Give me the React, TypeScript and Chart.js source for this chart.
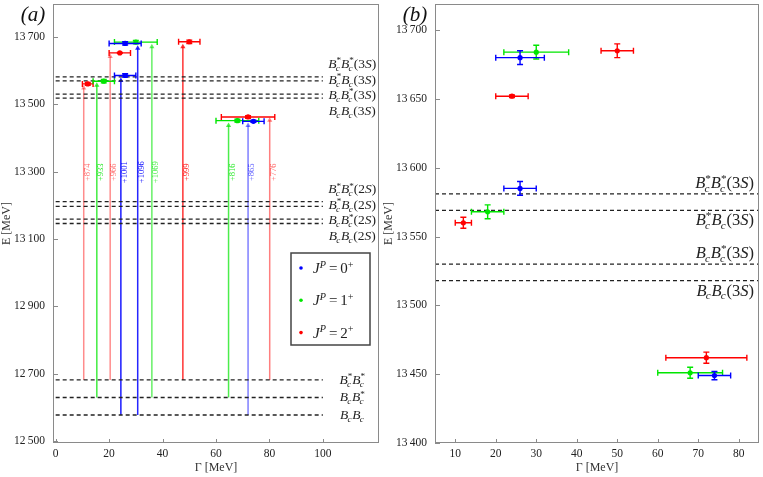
import { useEffect, useRef } from "react";
import { Chart, registerables, type ChartConfiguration, type Plugin } from "chart.js";

Chart.register(...registerables);

// ---- data ----
const gammaTicksLeft = [0, 20, 40, 60, 80, 100];
const massTicksLeft = [12500, 12700, 12900, 13100, 13300, 13500, 13700];
const gammaTicksRight = [10, 20, 30, 40, 50, 60, 70, 80];
const massTicksRight = [13400, 13450, 13500, 13550, 13600, 13650, 13700];

const jpValues = ["0", "1", "2"];
const jpColors = ["#0000ff", "#00e600", "#ff0000"];

// J^P = 0+
const gamma0 = [26, 26, 74];
const gamma0Err = [6, 4, 4];
const mass0 = [13680, 13585, 13449];
const mass0Err = [5, 5, 3];
// J^P = 1+
const gamma1 = [30, 18, 68];
const gamma1Err = [8, 4, 8];
const mass1 = [13684, 13568, 13451];
const mass1Err = [5, 5, 4];
// J^P = 2+
const gamma2 = [50, 24, 12, 72];
const gamma2Err = [4, 4, 2, 10];
const mass2 = [13685, 13652, 13560, 13462];
const mass2Err = [5, 1, 4, 4];

// thresholds: star flags for (first, second) meson
const pairs1S = [[true, true], [false, true], [false, false]];
const mass1S = [12682, 12630, 12578];
const pairs2S = [[true, true], [true, false], [false, true], [false, false]];
const mass2S = [13211, 13197, 13159, 13146];
const pairs3S = [[true, true], [true, false], [false, true], [false, false]];
const mass3S = [13581, 13569, 13530, 13518];

// arrows from thresholds up to the states (left panel)
const arrowGamma = [10.5, 15.4, 20.4, 24.4, 30.7, 36, 47.6, 64.7, 72, 80.1];
const arrowFrom = [12682, 12630, 12682, 12578, 12578, 12630, 12682, 12630, 12578, 12682];
const arrowTo = [13548, 13556, 13641, 13570, 13666, 13670, 13670, 13437, 13437, 13452];
const arrowJ = [2, 1, 2, 0, 0, 1, 2, 1, 0, 2];
const arrowAlpha = [0.45, 0.75, 0.45, 0.9, 0.85, 0.6, 0.8, 0.7, 0.5, 0.5];
const arrowText = ["+874", "+933", "+966", "+1001", "+1096", "+1069", "+999", "+816", "+865", "+776"];
const arrowTextMass = 13298;

const SERIF = '"Liberation Serif", "DejaVu Serif", serif';
const font = (size: number, it?: boolean) => `${it ? "italic " : ""}${size}px ${SERIF}`;

type Tok = { t: string; it?: boolean; sub?: string; sup?: string; supIt?: boolean };

const meson = (star: boolean): Tok => ({ t: "B", it: true, sub: "c", sup: star ? "*" : undefined });
const wave = (n: string): Tok[] => [{ t: "(" }, { t: n }, { t: "S", it: true }, { t: ")" }];
const pairName = (p: boolean[], n?: string): Tok[] => [meson(p[0]), meson(p[1]), ...(n ? wave(n) : [])];

function tokWidths(ctx: CanvasRenderingContext2D, tok: Tok, size: number) {
  ctx.font = font(size, tok.it);
  const w = ctx.measureText(tok.t).width;
  const s = size * 0.68;
  let extra = 0;
  if (tok.sub) {
    ctx.font = font(s, true);
    extra = Math.max(extra, ctx.measureText(tok.sub).width);
  }
  if (tok.sup) {
    ctx.font = font(s, tok.supIt);
    extra = Math.max(extra, ctx.measureText(tok.sup).width);
  }
  return { w, extra };
}

function drawRich(
  ctx: CanvasRenderingContext2D,
  toks: Tok[],
  x: number,
  y: number,
  size: number,
  align: "left" | "center" | "right",
  color = "#222"
) {
  const sizes = toks.map((t) => tokWidths(ctx, t, size));
  const total = sizes.reduce((a, s) => a + s.w + s.extra, 0);
  let cx = align === "right" ? x - total : align === "center" ? x - total / 2 : x;
  ctx.save();
  ctx.fillStyle = color;
  ctx.textAlign = "left";
  ctx.textBaseline = "alphabetic";
  const s = size * 0.68;
  toks.forEach((tok, i) => {
    ctx.font = font(size, tok.it);
    ctx.fillText(tok.t, cx, y);
    cx += sizes[i].w;
    if (tok.sub) {
      ctx.font = font(s, true);
      ctx.fillText(tok.sub, cx - size * 0.05, y + size * 0.22);
    }
    if (tok.sup) {
      ctx.font = font(s, tok.supIt);
      ctx.fillText(tok.sup, cx, y - size * 0.36);
    }
    cx += sizes[i].extra;
  });
  ctx.restore();
}

const fmtMass = (v: number) => `${Math.floor(v / 1000)}\u2009${String(v % 1000).padStart(3, "0")}`;

type Pt = { x: number; y: number; xe: number; ye: number };
const pointsFor = (g: number[], ge: number[], m: number[], me: number[]): Pt[] =>
  g.map((x, i) => ({ x, y: m[i], xe: ge[i], ye: me[i] }));

const pointSets = [
  pointsFor(gamma0, gamma0Err, mass0, mass0Err),
  pointsFor(gamma1, gamma1Err, mass1, mass1Err),
  pointsFor(gamma2, gamma2Err, mass2, mass2Err),
];

function rgba(hex: string, a: number) {
  const n = parseInt(hex.slice(1), 16);
  return `rgba(${(n >> 16) & 255},${(n >> 8) & 255},${n & 255},${a})`;
}

type Panel = "a" | "b";

function panelPlugin(panel: Panel): Plugin<"scatter"> {
  return {
    id: "panel-" + panel,
    beforeDatasetDraw(chart, args) {
      // error bars under each point set
      if (args.index > 2) return;
      const { ctx } = chart;
      const xs = chart.scales.x;
      const ys = chart.scales.y;
      const color = jpColors[args.index];
      ctx.save();
      ctx.strokeStyle = color;
      ctx.lineWidth = 1.4;
      for (const p of pointSets[args.index]) {
        const px = xs.getPixelForValue(p.x);
        const py = ys.getPixelForValue(p.y);
        const x0 = xs.getPixelForValue(p.x - p.xe);
        const x1 = xs.getPixelForValue(p.x + p.xe);
        const y0 = ys.getPixelForValue(p.y - p.ye);
        const y1 = ys.getPixelForValue(p.y + p.ye);
        const c = 3;
        ctx.beginPath();
        ctx.moveTo(x0, py);
        ctx.lineTo(x1, py);
        ctx.moveTo(x0, py - c);
        ctx.lineTo(x0, py + c);
        ctx.moveTo(x1, py - c);
        ctx.lineTo(x1, py + c);
        ctx.moveTo(px, y0);
        ctx.lineTo(px, y1);
        ctx.moveTo(px - c, y0);
        ctx.lineTo(px + c, y0);
        ctx.moveTo(px - c, y1);
        ctx.lineTo(px + c, y1);
        ctx.stroke();
      }
      ctx.restore();
    },
    afterDraw(chart) {
      const { ctx, chartArea: a } = chart;
      const xs = chart.scales.x;
      const ys = chart.scales.y;
      ctx.save();
      // frame and inward ticks
      ctx.strokeStyle = "#8a8a8a";
      ctx.lineWidth = 1;
      ctx.strokeRect(a.left + 0.5, a.top + 0.5, a.right - a.left - 1, a.bottom - a.top - 1);
      ctx.beginPath();
      for (const v of panel === "a" ? gammaTicksLeft : gammaTicksRight) {
        const px = Math.round(xs.getPixelForValue(v)) + 0.5;
        ctx.moveTo(px, a.bottom);
        ctx.lineTo(px, a.bottom - 4);
      }
      for (const v of panel === "a" ? massTicksLeft : massTicksRight) {
        const py = Math.round(ys.getPixelForValue(v)) + 0.5;
        ctx.moveTo(a.left, py);
        ctx.lineTo(a.left + 5, py);
      }
      ctx.stroke();

      // panel tag and axis titles
      ctx.fillStyle = "#111";
      ctx.font = font(21, true);
      ctx.textAlign = "center";
      ctx.textBaseline = "alphabetic";
      ctx.fillText(panel === "a" ? "(a)" : "(b)", a.left - 20, 21);
      ctx.font = font(12);
      ctx.fillStyle = "#333";
      ctx.fillText("\u0393 [MeV]", (a.left + a.right) / 2, 471);
      ctx.save();
      ctx.translate(a.left - 43, (a.top + a.bottom) / 2);
      ctx.rotate(-Math.PI / 2);
      ctx.fillText("E [MeV]", 0, 0);
      ctx.restore();

      if (panel === "a") {
        // threshold labels
        const lx = xs.getPixelForValue(111);
        const size = 13.5;
        const stack = (masses: number[], pairs: boolean[][], n: string) => {
          const mid = masses.reduce((s, m) => s + ys.getPixelForValue(m), 0) / masses.length;
          pairs.forEach((p, i) => {
            const y = mid + (i - (pairs.length - 1) / 2) * 15.5;
            drawRich(ctx, pairName(p, n), lx, y + 4, size, "center");
          });
        };
        stack(mass3S, pairs3S, "3");
        stack(mass2S, pairs2S, "2");
        pairs1S.forEach((p, i) => {
          drawRich(ctx, pairName(p), lx, ys.getPixelForValue(mass1S[i]) + 4, size, "center");
        });

        // energy shifts along the arrows
        ctx.font = font(8.5);
        ctx.textAlign = "center";
        ctx.textBaseline = "middle";
        arrowText.forEach((t, i) => {
          ctx.save();
          ctx.fillStyle = rgba(jpColors[arrowJ[i]], Math.min(1, arrowAlpha[i] + 0.15));
          ctx.translate(xs.getPixelForValue(arrowGamma[i]) + 4, ys.getPixelForValue(arrowTextMass));
          ctx.rotate(-Math.PI / 2);
          ctx.fillText(t, 0, 0);
          ctx.restore();
        });

        // legend
        const bx = a.right - 88;
        const by = 253;
        const bw = 79;
        const bh = 92;
        ctx.fillStyle = "#fff";
        ctx.fillRect(bx, by, bw, bh);
        ctx.strokeStyle = "#444";
        ctx.lineWidth = 1.5;
        ctx.strokeRect(bx, by, bw, bh);
        jpValues.forEach((v, i) => {
          const y = by + 15 + i * 32.3;
          ctx.fillStyle = jpColors[i];
          ctx.beginPath();
          ctx.arc(bx + 10, y, 1.8, 0, Math.PI * 2);
          ctx.fill();
          drawRich(
            ctx,
            [
              { t: "J", it: true, sup: "P", supIt: true },
              { t: "\u2009=\u2009" + v, sup: "+" },
            ],
            bx + 22,
            y + 5,
            15,
            "left"
          );
        });
      } else {
        const rx = a.right - 5;
        const offs = [-6, 15, -6, 15];
        pairs3S.forEach((p, i) => {
          drawRich(ctx, pairName(p, "3"), rx, ys.getPixelForValue(mass3S[i]) + offs[i], 16.5, "right");
        });
      }
      ctx.restore();
    },
  };
}

function makeConfig(panel: Panel): ChartConfiguration<"scatter"> {
  const left = panel === "a";
  const x0 = left ? 0 : 5;
  const x1 = left ? 100 : 85;
  const thresholds = left ? [...mass3S, ...mass2S, ...mass1S] : mass3S;

  const datasets: any[] = pointSets.map((pts, i) => ({
    data: pts,
    backgroundColor: jpColors[i],
    borderWidth: 0,
    pointRadius: 2.6,
  }));
  thresholds.forEach((m) => {
    datasets.push({
      type: "line",
      data: [
        { x: x0, y: m },
        { x: x1, y: m },
      ],
      borderColor: "#222",
      borderWidth: 1.3,
      borderDash: [4, 3],
      pointRadius: 0,
    });
  });
  if (left) {
    arrowGamma.forEach((g, i) => {
      const c = rgba(jpColors[arrowJ[i]], arrowAlpha[i]);
      datasets.push({
        type: "line",
        data: [
          { x: g, y: arrowFrom[i] },
          { x: g, y: arrowTo[i] },
        ],
        borderColor: c,
        borderWidth: 1.5,
        pointRadius: [0, 3],
        pointStyle: "triangle",
        pointBackgroundColor: c,
        pointBorderWidth: 0,
      });
    });
  }

  const tickFont = { family: SERIF, size: 11.5 };
  return {
    type: "scatter",
    data: { datasets },
    options: {
      animation: false,
      responsive: true,
      maintainAspectRatio: false,
      layout: { padding: { top: 2, right: left ? 1 : 2, left: 0, bottom: 0 } },
      plugins: { legend: { display: false }, tooltip: { enabled: false } },
      scales: {
        x: {
          type: "linear",
          min: left ? -1 : 5,
          max: left ? 121 : 85,
          grid: { display: false, drawTicks: false },
          border: { display: false },
          afterBuildTicks: (s) => {
            s.ticks = (left ? gammaTicksLeft : gammaTicksRight).map((value) => ({ value }));
          },
          afterFit: (s) => {
            s.height = 34;
            s.paddingLeft = 0;
            s.paddingRight = 0;
          },
          ticks: { font: tickFont, color: "#222", padding: 4, maxRotation: 0, autoSkip: false, callback: (v) => String(v) },
        },
        y: {
          type: "linear",
          min: left ? 12495 : 13400,
          max: left ? 13797 : 13719,
          grid: { display: false, drawTicks: false },
          border: { display: false },
          afterBuildTicks: (s) => {
            s.ticks = (left ? massTicksLeft : massTicksRight).map((value) => ({ value }));
          },
          afterFit: (s) => {
            s.width = left ? 53 : 52;
            s.paddingTop = 0;
            s.paddingBottom = 0;
          },
          ticks: { font: tickFont, color: "#222", padding: 8, autoSkip: false, callback: (v) => fmtMass(Number(v)) },
        },
      },
    },
    plugins: [panelPlugin(panel)],
  };
}

function Panel({ panel }: { panel: Panel }) {
  const ref = useRef<HTMLCanvasElement>(null);
  useEffect(() => {
    const canvas = ref.current;
    if (!canvas) return;
    const chart = new Chart(canvas, makeConfig(panel));
    return () => chart.destroy();
  }, [panel]);
  return <canvas ref={ref} />;
}

export default function App() {
  return (
    <div style={{ position: "fixed", left: 0, top: 0, width: 763, height: 477, background: "#fff" }}>
      <div style={{ position: "absolute", left: 0, top: 0, width: 383, height: 477 }}>
        <Panel panel="a" />
      </div>
      <div style={{ position: "absolute", left: 383, top: 0, width: 380, height: 477 }}>
        <Panel panel="b" />
      </div>
    </div>
  );
}
